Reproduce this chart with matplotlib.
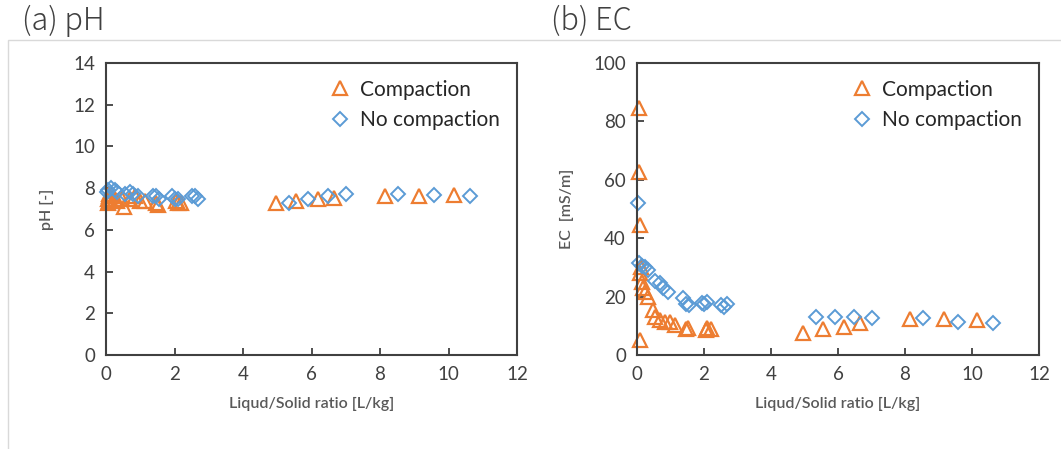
import matplotlib
matplotlib.use("Agg")
import matplotlib.pyplot as plt
from matplotlib.patches import Rectangle

# ---- data ----
comp_x = [0.05, 0.06, 0.10, 0.10, 0.12, 0.10, 0.15, 0.18, 0.25, 0.33, 0.48, 0.54,
          0.69, 0.84, 0.99, 1.13, 1.45, 1.52, 2.05, 2.10, 2.20,
          4.96, 5.55, 6.18, 6.66, 8.15, 9.15, 10.15]
comp_ph = [7.3, 7.5, 7.6, 7.7, 7.5, 7.4, 7.6, 7.6, 7.5, 7.4, 7.5, 7.1,
           7.5, 7.6, 7.4, 7.4, 7.3, 7.2, 7.4, 7.3, 7.3,
           7.3, 7.4, 7.5, 7.55, 7.6, 7.6, 7.65]
comp_ec = [84.6, 62.7, 44.5, 5.0, 30.0, 28.0, 25.0, 23.0, 21.6, 20.0, 15.4, 13.0,
           12.0, 11.3, 11.3, 10.3, 9.0, 9.2, 8.5, 9.2, 9.0,
           7.5, 8.9, 9.6, 11.0, 12.3, 12.3, 12.0]

nocomp_x = [0.03, 0.05, 0.15, 0.25, 0.33, 0.55, 0.69, 0.78, 0.93, 1.37, 1.45, 1.55,
            1.94, 2.00, 2.09, 2.50, 2.60, 2.70,
            5.34, 5.91, 6.48, 7.00, 8.54, 9.58, 10.63]
nocomp_ph = [7.8, 7.9, 8.0, 7.9, 7.8, 7.7, 7.8, 7.7, 7.6, 7.6, 7.6, 7.5,
             7.6, 7.5, 7.5, 7.6, 7.6, 7.5,
             7.3, 7.5, 7.6, 7.7, 7.7, 7.67, 7.6]
nocomp_ec = [52.0, 31.5, 30.5, 30.0, 29.0, 25.5, 24.5, 23.0, 21.6, 19.5, 17.5, 17.2,
             17.8, 17.5, 18.2, 17.0, 16.5, 17.5,
             13.0, 13.0, 13.0, 12.7, 12.7, 11.3, 11.0]

x_ticks = [0, 2, 4, 6, 8, 10, 12]
ph_ticks = [0, 2, 4, 6, 8, 10, 12, 14]
ec_ticks = [0, 20, 40, 60, 80, 100]

ORANGE = "#ED7D31"
BLUE = "#5B9BD5"
SPINE = "#404040"
TXT = "#404040"

plt.rcParams['font.family'] = ['Lato', 'DejaVu Sans']

fig = plt.figure(figsize=(10.61, 4.49), dpi=100)

# outer light frame
fig.patches.append(Rectangle((8/1061, -0.1), 1.2, (449-40)/449 + 0.1,
                             transform=fig.transFigure, fill=False,
                             edgecolor="#D9D9D9", linewidth=1.0))

ax1 = fig.add_axes([106/1061, 1-355/449, (517-106)/1061, (355-63)/449])
ax2 = fig.add_axes([637/1061, 1-355/449, (1039-637)/1061, (355-63)/449])

def style(ax, yticks, ylabel):
    ax.set_xlim(0, 12)
    ax.set_xticks(x_ticks)
    ax.set_ylim(yticks[0], yticks[-1])
    ax.set_yticks(yticks)
    for s in ax.spines.values():
        s.set_color(SPINE)
        s.set_linewidth(1.5)
    ax.tick_params(direction='in', length=5, width=1.3, color=SPINE,
                   labelsize=13.5, labelcolor=TXT, pad=8)
    ax.set_xlabel("Liqud/Solid ratio [L/kg]", fontsize=11.5, color="#595959",
                  fontweight='semibold', labelpad=10)
    ax.set_ylabel(ylabel, fontsize=11.5, color="#595959", fontweight='semibold',
                  labelpad=14)

def plot(ax, yc, yn):
    ax.plot(comp_x, yc, linestyle='none', marker='^', markersize=10,
            markerfacecolor='none', markeredgecolor=ORANGE, markeredgewidth=1.6,
            label="Compaction", clip_on=False)
    ax.plot(nocomp_x, yn, linestyle='none', marker='D', markersize=7.5,
            markerfacecolor='none', markeredgecolor=BLUE, markeredgewidth=1.4,
            label="No compaction", clip_on=False)
    leg = ax.legend(loc='upper right', frameon=False, fontsize=15,
                    handletextpad=0.4, borderaxespad=0.4, labelspacing=0.5,
                    handlelength=1.2)
    for t in leg.get_texts():
        t.set_color("#262626")

plot(ax1, comp_ph, nocomp_ph)
plot(ax2, comp_ec, nocomp_ec)
style(ax1, ph_ticks, "pH [-]")
style(ax2, ec_ticks, "EC  [mS/m]")

fig.text(22/1061, 1-21/449, "(a) pH", fontsize=22, color="#404040",
         va='center', ha='left', family=['Noto Sans CJK JP', 'DejaVu Sans'],
         fontweight='light')
fig.text(551/1061, 1-21/449, "(b) EC", fontsize=22, color="#404040",
         va='center', ha='left', family=['Noto Sans CJK JP', 'DejaVu Sans'],
         fontweight='light')

fig.savefig("out.png", dpi=100)
